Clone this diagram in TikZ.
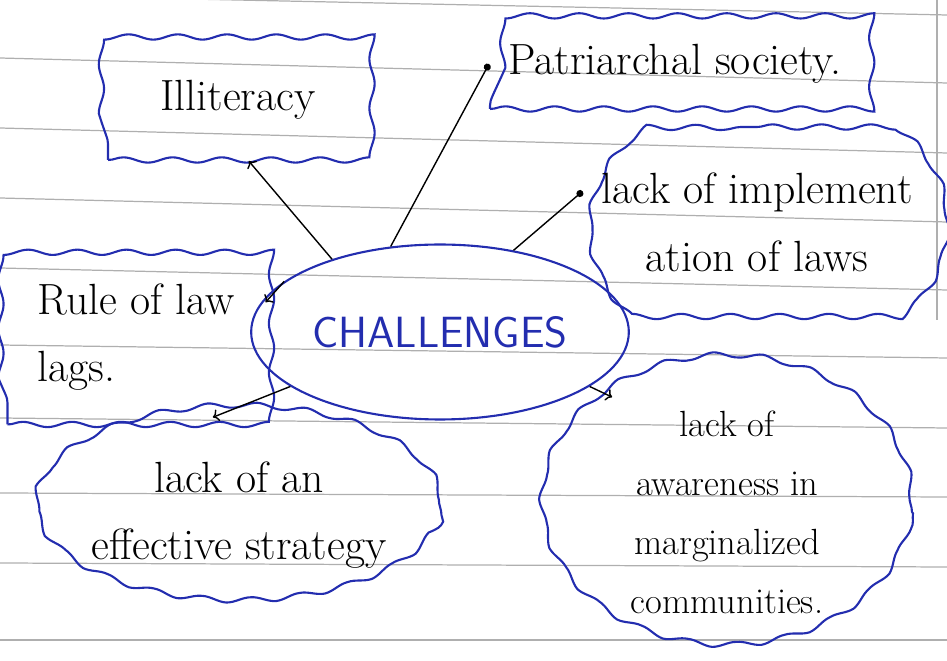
\documentclass[tikz,border=0pt]{standalone}
\usepackage{tikz}
\usetikzlibrary{shapes.geometric}
\usetikzlibrary{shapes.misc}
\usetikzlibrary{decorations.pathmorphing}
\usetikzlibrary{arrows.meta}
\definecolor{inkblue}{RGB}{35,45,175}
\definecolor{ruled}{RGB}{175,175,175}
\tikzset{
	cloudbox/.style={draw=inkblue, line width=1.2pt, decorate, decoration={snake, amplitude=1.5pt, segment length=28pt}, align=center, font=\Huge, inner sep=0pt},
	link/.style={->, thick},
	pinlink/.style={-{Circle[length=4pt]}, thick},
}

\begin{document}
\begin{tikzpicture}[x=0.02cm, y=-0.02cm]
	\useasboundingbox (0,0) rectangle (947,661);
	% ruled paper
	\foreach \yl/\yr in {-5/15, 58/83, 128/153, 198/222, 268/290, 345/358, 418/428, 493/497, 563/567, 640/640}
		\draw[ruled, line width=0.7pt] (0,\yl) -- (947,\yr);
	\draw[ruled, line width=0.7pt] (937,0) -- (937,320);
	%
	\node[cloudbox, minimum width=5.2cm, minimum height=2.4cm] (illit) at (238,100) {Illiteracy};
	\node[cloudbox, minimum width=7.4cm, minimum height=1.8cm] (patri) at (675,64) {Patriarchal society.};
	\node[cloudbox, rounded rectangle, rounded rectangle arc length=110, minimum width=7.1cm, minimum height=3.8cm] (impl) at (757,222) {lack of implement\\[0.3cm]ation of laws};
	\node[cloudbox, minimum width=5.14cm, minimum height=3.5cm, align=left] (rule) at (136,337) {Rule of law\\[0.3cm]lags.};
	\node[draw=inkblue, ellipse, line width=1.2pt, minimum width=7.2cm, minimum height=3.5cm, font=\Huge\sffamily, text=inkblue] (chal) at (440,332) {CHALLENGES};
	\node[cloudbox, ellipse, inner sep=-20pt, minimum width=8.1cm, minimum height=3.9cm] (strat) at (239,515) {lack of an\\[0.3cm]effective strategy};
	\node[cloudbox, ellipse, font=\huge, inner sep=-25pt, minimum width=7.4cm, minimum height=5.8cm] (aware) at (727,512) {lack of\\[0.3cm]awareness in\\[0.3cm]marginalized\\[0.3cm]communities.};
	%
	\draw[link] (chal.146) -- (illit.-80);
	\draw[pinlink] (chal.120) -- (patri.west);
	\draw[pinlink] (chal.48) -- (impl.170);
	\draw[link] (chal.162) -- (rule.15);
	\draw[link] (chal.200) -- (strat.105);
	\draw[link] (chal.-20) -- (aware.135);
\end{tikzpicture}
\end{document}
